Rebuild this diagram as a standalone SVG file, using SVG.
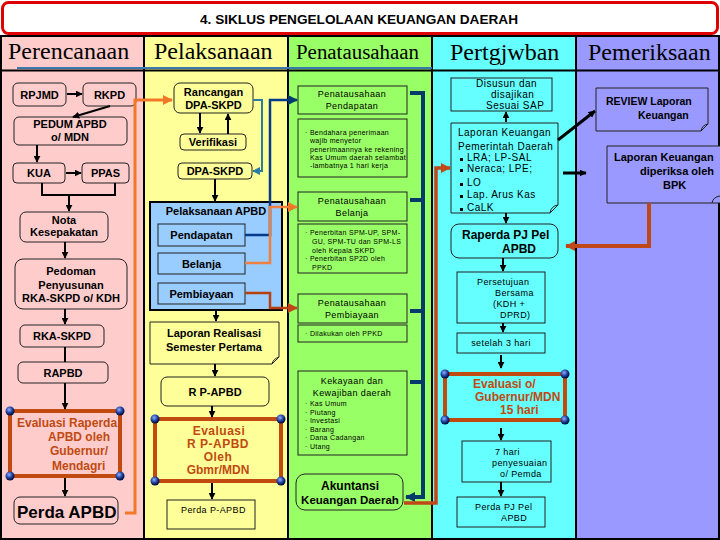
<svg xmlns="http://www.w3.org/2000/svg" width="720" height="540" viewBox="0 0 720 540">
<defs>
<style>
.t{font-family:"Liberation Sans",Arial,sans-serif;fill:#000}
.b{font-weight:bold}
.c{text-anchor:middle}
.hd{font-family:"Liberation Serif","Times New Roman",serif;font-size:24px;fill:#000}
.bx{stroke:#222;stroke-width:1}
.pk{fill:#ffcccc}.yl{fill:#ffff99}.gr{fill:#99ff66}.cy{fill:#66ffff}.lv{fill:#9999ff}.lb{fill:#99ccff}
.ev{fill:none;stroke:#c04a10;stroke-width:4}
.evt{font-family:"Liberation Sans",Arial,sans-serif;font-weight:bold;font-size:12px;fill:#c04a10}
.s9{font-size:9px;letter-spacing:0.4px}
.s7{font-size:7px;letter-spacing:0.3px}
.s10{font-size:10px;letter-spacing:0.5px}
.ar{fill:none;stroke:#000;stroke-width:2;marker-end:url(#ak)}
.ln{fill:none;stroke:#000;stroke-width:2}
</style>
<marker id="ak" viewBox="0 0 10 10" refX="9" refY="5" markerWidth="7" markerHeight="7" markerUnits="userSpaceOnUse" orient="auto"><path d="M0,0 L10,5 L0,10 z" fill="#000"/></marker>
<marker id="ao" viewBox="0 0 10 10" refX="9" refY="5" markerWidth="10" markerHeight="10" markerUnits="userSpaceOnUse" orient="auto"><path d="M0,0 L10,5 L0,10 z" fill="#f07828"/></marker>
<marker id="an" viewBox="0 0 10 10" refX="9" refY="5" markerWidth="10" markerHeight="10" markerUnits="userSpaceOnUse" orient="auto"><path d="M0,0 L10,5 L0,10 z" fill="#063a6a"/></marker>
<marker id="abr" viewBox="0 0 10 10" refX="9" refY="5" markerWidth="10" markerHeight="10" markerUnits="userSpaceOnUse" orient="auto"><path d="M0,0 L10,5 L0,10 z" fill="#c04818"/></marker>
<marker id="at" viewBox="0 0 10 10" refX="9" refY="5" markerWidth="8" markerHeight="8" markerUnits="userSpaceOnUse" orient="auto"><path d="M0,0 L10,5 L0,10 z" fill="#2a7ca0"/></marker>
<radialGradient id="gl" cx="0.4" cy="0.35" r="0.6"><stop offset="0" stop-color="#8fb0ff"/><stop offset="0.6" stop-color="#2040a0"/><stop offset="1" stop-color="#001040"/></radialGradient>
</defs>

<!-- background columns -->
<g id="columns">
<rect x="0" y="36" width="144" height="504" class="pk"/>
<rect x="144" y="36" width="144" height="504" class="yl"/>
<rect x="288" y="36" width="144" height="504" class="gr"/>
<rect x="432" y="36" width="144" height="504" class="cy"/>
<rect x="576" y="36" width="144" height="504" class="lv"/>
<path d="M144,36 V540 M288,36 V540 M432,36 V540 M576,36 V540" stroke="#000" stroke-width="2"/>
<rect x="1" y="36" width="718" height="503" fill="none" stroke="#000" stroke-width="2"/>
<line x1="0" y1="70.5" x2="720" y2="70.5" stroke="#000" stroke-width="2"/>
<line x1="17" y1="68" x2="432" y2="68" stroke="#3a78b0" stroke-width="2"/>
<text class="hd" x="8" y="59">Perencanaan</text>
<text class="hd" x="154" y="59">Pelaksanaan</text>
<text class="hd" x="296" y="59" style="font-size:20px" textLength="123" lengthAdjust="spacingAndGlyphs">Penatausahaan</text>
<text class="hd" x="450" y="60">Pertgjwban</text>
<text class="hd" x="588" y="60">Pemeriksaan</text>
</g>

<g id="title">
<rect x="2.5" y="2.5" width="715" height="31" rx="6" fill="#fff" stroke="#e00000" stroke-width="3"/>
<text class="t b" x="200" y="24" style="font-size:13px" textLength="318" lengthAdjust="spacingAndGlyphs">4. SIKLUS PENGELOLAAN KEUANGAN DAERAH</text>
</g>

<!-- Perencanaan -->
<g id="rpjmd"><rect x="13" y="83" width="53" height="23" rx="5" class="bx pk"/><text class="t b c" x="39.5" y="98.5" font-size="11">RPJMD</text></g>
<g id="rkpd"><rect x="83" y="83" width="53" height="23" rx="5" class="bx pk"/><text class="t b c" x="109.5" y="98.5" font-size="11">RKPD</text></g>
<g id="pedum"><rect x="14" y="117" width="113" height="28" rx="5" class="bx pk"/><text class="t b c" x="70" y="128" font-size="11">PEDUM APBD</text><text class="t b c" x="70" y="141" font-size="11">o/ MDN</text></g>
<g id="kua"><rect x="13" y="163" width="52" height="20" rx="4" class="bx pk"/><text class="t b c" x="39" y="177" font-size="11">KUA</text></g>
<g id="ppas"><rect x="82" y="163" width="47" height="20" rx="4" class="bx pk"/><text class="t b c" x="105.5" y="177" font-size="11">PPAS</text></g>
<g id="nota"><rect x="20" y="212" width="88" height="30" rx="6" class="bx pk"/><text class="t b c" x="64" y="224" font-size="11">Nota</text><text class="t b c" x="64" y="236" font-size="11">Kesepakatan</text></g>
<g id="pedoman"><rect x="15" y="259" width="112" height="50" rx="8" class="bx pk"/><text class="t b c" x="71" y="275" font-size="11">Pedoman</text><text class="t b c" x="71" y="288.5" font-size="11">Penyusunan</text><text class="t b c" x="71" y="302" font-size="11">RKA-SKPD o/ KDH</text></g>
<g id="rkaskpd"><rect x="20" y="325" width="84" height="22" rx="5" class="bx pk"/><text class="t b c" x="62" y="340" font-size="11">RKA-SKPD</text></g>
<g id="rapbd"><rect x="18" y="362" width="90" height="21" rx="5" class="bx pk"/><text class="t b c" x="63" y="377" font-size="11">RAPBD</text></g>
<g id="evaluasi-raperda"><rect x="10" y="411" width="110" height="65" class="ev" style="fill:#ffcccc"/>
<text class="evt" x="17" y="427">Evaluasi Raperda</text><text class="evt" x="48" y="441">APBD oleh</text><text class="evt" x="50" y="455">Gubernur/</text><text class="evt" x="52" y="470">Mendagri</text>
<circle cx="10" cy="411" r="4.5" fill="url(#gl)"/><circle cx="120" cy="411" r="4.5" fill="url(#gl)"/><circle cx="10" cy="476" r="4.5" fill="url(#gl)"/><circle cx="120" cy="476" r="4.5" fill="url(#gl)"/></g>
<g id="perda-apbd"><rect x="14" y="497" width="104" height="27" rx="6" class="bx pk"/><text class="t b" x="17" y="518" font-size="17">Perda APBD</text></g>

<!-- Pelaksanaan -->
<g id="rancangan"><rect x="174" y="83" width="79" height="30" rx="6" class="bx yl"/><text class="t b c" x="213.5" y="96" font-size="11">Rancangan</text><text class="t b c" x="213.5" y="109" font-size="11">DPA-SKPD</text></g>
<g id="verifikasi"><rect x="180" y="134" width="66" height="16" rx="4" class="bx yl"/><text class="t b c" x="213" y="146" font-size="11">Verifikasi</text></g>
<g id="dpaskpd"><rect x="178" y="163" width="74" height="16" rx="4" class="bx yl"/><text class="t b c" x="215" y="175" font-size="11">DPA-SKPD</text></g>
<g id="pelaksanaan-apbd"><rect x="150" y="202" width="132" height="108" class="lb" stroke="#000" stroke-width="2"/><text class="t b c" x="216" y="215" font-size="11">Pelaksanaan APBD</text>
<g id="pendapatan"><rect x="158" y="224" width="87" height="22" class="bx lb"/><text class="t b c" x="201.5" y="239" font-size="11">Pendapatan</text></g>
<g id="belanja"><rect x="158" y="253" width="87" height="21" class="bx lb"/><text class="t b c" x="201.5" y="268" font-size="11">Belanja</text></g>
<g id="pembiayaan"><rect x="158" y="283" width="87" height="21" class="bx lb"/><text class="t b c" x="201.5" y="298" font-size="11">Pembiayaan</text></g></g>
<g id="laporan-realisasi"><path d="M150,322 H279 V357 L272,364 H150 Z" class="bx yl"/><path d="M272,364 Q273,359 279,357" fill="none" stroke="#222"/><text class="t b c" x="214" y="337" font-size="11">Laporan Realisasi</text><text class="t b c" x="214" y="351" font-size="11">Semester Pertama</text></g>
<g id="rp-apbd"><rect x="161" y="377" width="108" height="29" rx="6" class="bx yl"/><text class="t b c" x="215" y="396" font-size="11">R P-APBD</text></g>
<g id="evaluasi-rp"><rect x="155" y="419" width="126" height="62" class="ev" style="fill:#ffff99"/>
<text class="evt" x="219" y="435" text-anchor="middle" letter-spacing="0.5">Evaluasi</text><text class="evt" x="218" y="448" text-anchor="middle" letter-spacing="0.5">R P-APBD</text><text class="evt" x="218" y="461" text-anchor="middle" letter-spacing="0.5">Oleh</text><text class="evt" x="218" y="474" text-anchor="middle">Gbmr/MDN</text>
<circle cx="155" cy="419" r="4.5" fill="url(#gl)"/><circle cx="281" cy="419" r="4.5" fill="url(#gl)"/><circle cx="155" cy="481" r="4.5" fill="url(#gl)"/><circle cx="281" cy="481" r="4.5" fill="url(#gl)"/></g>
<g id="perda-papbd"><rect x="167" y="500" width="88" height="29" class="bx yl"/><text class="t s9" x="181" y="513">Perda P-APBD</text></g>

<!-- Penatausahaan -->
<g id="pt-pendapatan"><rect x="298" y="86" width="109" height="28" class="bx gr"/><text class="t s9 c" x="352" y="97">Penatausahaan</text><text class="t s9 c" x="352" y="109">Pendapatan</text></g>
<g id="pt-pendapatan-note"><rect x="298" y="119" width="109" height="58" class="bx gr"/>
<text class="t s7" x="305" y="135">·  Bendahara penerimaan</text><text class="t s7" x="310" y="143">wajib menyetor</text><text class="t s7" x="310" y="151.5">penerimaannya ke rekening</text><text class="t s7" x="310" y="159.5">Kas Umum daerah selambat</text><text class="t s7" x="310" y="168">-lambatnya 1 hari kerja</text></g>
<g id="pt-belanja"><rect x="298" y="192" width="109" height="29" class="bx gr"/><text class="t s9 c" x="352" y="204">Penatausahaan</text><text class="t s9 c" x="352" y="216">Belanja</text></g>
<g id="pt-belanja-note"><rect x="298" y="224" width="109" height="49" class="bx gr"/>
<text class="t s7" x="305" y="235">·  Penerbitan SPM-UP, SPM-</text><text class="t s7" x="312" y="244">GU, SPM-TU dan SPM-LS</text><text class="t s7" x="312" y="252.5">oleh Kepala SKPD</text><text class="t s7" x="305" y="261">·  Penerbitan SP2D oleh</text><text class="t s7" x="312" y="269.5">PPKD</text></g>
<g id="pt-pembiayaan"><rect x="298" y="294" width="109" height="29" class="bx gr"/><text class="t s9 c" x="352" y="306">Penatausahaan</text><text class="t s9 c" x="352" y="318">Pembiayaan</text></g>
<g id="pt-pembiayaan-note"><rect x="298" y="325" width="109" height="17" class="bx gr"/><text class="t s7" x="305" y="336">·  Dilakukan oleh PPKD</text></g>
<g id="kekayaan"><rect x="298" y="371" width="109" height="84" class="bx gr"/><text class="t s9 c" x="352" y="384">Kekayaan dan</text><text class="t s9 c" x="352" y="396">Kewajiban daerah</text>
<text class="t s7" x="305" y="406">·  Kas Umum</text><text class="t s7" x="305" y="414.5">·  Piutang</text><text class="t s7" x="305" y="423">·  Investasi</text><text class="t s7" x="305" y="431.5">·  Barang</text><text class="t s7" x="305" y="440">·  Dana Cadangan</text><text class="t s7" x="305" y="449">·  Utang</text></g>
<g id="akuntansi"><rect x="296" y="474" width="107" height="36" rx="9" class="bx gr"/><text class="t b c" x="350" y="490" font-size="12">Akuntansi</text><text class="t b c" x="350" y="504" font-size="11.5">Keuangan Daerah</text></g>

<!-- Pertgjwban -->
<g id="disusun"><rect x="451" y="78" width="101" height="33" class="bx cy"/><text class="t s10" x="476" y="87">Disusun dan</text><text class="t s10" x="491" y="98">disajikan</text><text class="t s10" x="486" y="109">Sesuai SAP</text></g>
<g id="lkpd"><path d="M451,123 H558 V205 L550,213 H451 Z" class="bx cy"/><path d="M550,213 Q551,206 558,205" fill="none" stroke="#222"/>
<text class="t s10" x="458" y="136">Laporan Keuangan</text><text class="t s10" x="458" y="150">Pemerintah Daerah</text>
<rect x="460" y="158" width="3" height="3"/><text class="t s10" x="467" y="161">LRA; LP-SAL</text>
<rect x="460" y="169" width="3" height="3"/><text class="t s10" x="467" y="172">Neraca; LPE;</text>
<rect x="460" y="183" width="3" height="3"/><text class="t s10" x="467" y="186">LO</text>
<rect x="460" y="195" width="3" height="3"/><text class="t s10" x="467" y="198">Lap. Arus Kas</text>
<rect x="460" y="208" width="3" height="3"/><text class="t s10" x="467" y="211">CaLK</text></g>
<g id="raperda-pj"><rect x="451" y="224" width="107" height="34" rx="8" class="bx cy"/><text class="t b" x="462" y="239" font-size="12">Raperda PJ Pel</text><text class="t b" x="502" y="253" font-size="12">APBD</text></g>
<g id="persetujuan"><rect x="457" y="272" width="88" height="51" class="bx cy"/><text class="t s9" x="477" y="285">Persetujuan</text><text class="t s9" x="495" y="296">Bersama</text><text class="t s9" x="493" y="307">(KDH +</text><text class="t s9" x="500" y="318">DPRD)</text></g>
<g id="setelah"><rect x="457" y="333" width="88" height="20" class="bx cy"/><text class="t s9 c" x="501" y="346">setelah 3 hari</text></g>
<g id="evaluasi-gub"><rect x="445" y="374" width="120" height="46" class="ev" style="fill:#66ffff"/>
<text class="evt" x="473" y="388">Evaluasi o/</text><text class="evt" x="475" y="401">Gubernur/MDN</text><text class="evt" x="500" y="414">15 hari</text>
<circle cx="445" cy="374" r="4.5" fill="url(#gl)"/><circle cx="565" cy="374" r="4.5" fill="url(#gl)"/><circle cx="445" cy="420" r="4.5" fill="url(#gl)"/><circle cx="565" cy="420" r="4.5" fill="url(#gl)"/></g>
<g id="tujuh-hari"><rect x="462" y="441" width="89" height="41" class="bx cy"/><text class="t s9" x="495" y="455">7 hari</text><text class="t s9" x="492" y="466">penyesuaian</text><text class="t s9" x="500" y="477">o/ Pemda</text></g>
<g id="perda-pj"><rect x="457" y="497" width="88" height="30" class="bx cy"/><text class="t s9" x="475" y="510">Perda PJ Pel</text><text class="t s9" x="501" y="521">APBD</text></g>

<!-- Pemeriksaan -->
<g id="review"><path d="M596,88 H708 V124 L701,131 H596 Z" class="bx lv"/><path d="M701,131 Q702,125 708,124" fill="none" stroke="#222"/><text class="t b" x="606" y="105" font-size="10.5">REVIEW Laporan</text><text class="t b" x="638" y="119" font-size="10.5">Keuangan</text></g>
<g id="diperiksa"><path d="M607,146 H722 V203 H607 Z" class="bx lv"/><path d="M712,203 Q713,197 720,196" fill="none" stroke="#222"/><text class="t b" x="614" y="161" font-size="11">Laporan Keuangan</text><text class="t b" x="640" y="175" font-size="11">diperiksa oleh</text><text class="t b" x="663" y="189" font-size="11">BPK</text></g>

<!-- connectors -->
<g id="connectors">
<path class="ar" d="M67,94 H82"/>
<path class="ar" d="M110,106 L73,117"/>
<path class="ar" d="M37,145 V162"/>
<path class="ar" d="M66,173 H81"/>
<path class="ln" d="M42,183 V195 H115 V183"/>
<path class="ar" d="M69,195 V211"/>
<path class="ar" d="M65,242 V258"/>
<path class="ar" d="M65,309 V324"/>
<path class="ln" d="M65,347 V362"/>
<path class="ar" d="M65,383 V409"/>
<path class="ar" d="M65,478 V496"/>
<path d="M125,513 H135 V100 H172" fill="none" stroke="#f07828" stroke-width="3" marker-end="url(#ao)"/>

<path class="ar" d="M200,113 V133"/>
<path class="ar" d="M228,134 V114"/>
<path d="M253,100 H262 V171 H253" fill="none" stroke="#2a7ca0" stroke-width="2" marker-end="url(#at)"/>
<path class="ar" d="M215,179 V201"/>
<path class="ar" d="M216,310 V321"/>
<path class="ar" d="M215,364 V376"/>
<path class="ar" d="M212,406 V417"/>
<path class="ar" d="M212,483 V499"/>

<path d="M245,235 H270 V100 H297" fill="none" stroke="#063a8a" stroke-width="2.5" marker-end="url(#an)"/>
<path d="M245,263 H270 V207 H297" fill="none" stroke="#f08040" stroke-width="2.5" marker-end="url(#ao)"/>
<path d="M245,293 H270 V308 H297" fill="none" stroke="#b84010" stroke-width="2.5" marker-end="url(#abr)"/>

<path d="M410,93 H423 V497 H406" fill="none" stroke="#063a6a" stroke-width="4" marker-end="url(#an)"/>
<path d="M410,200 H423 M410,311 H423 M410,382 H423" fill="none" stroke="#063a6a" stroke-width="4"/>
<path d="M404,503 H436 V168 H450" fill="none" stroke="#c04818" stroke-width="3.5" marker-end="url(#abr)"/>

<path class="ar" d="M506,122 V112"/>
<path d="M558,140 L595,111" fill="none" stroke="#000" stroke-width="3" marker-end="url(#ak)"/>
<path class="ar" d="M563,173 H586" style="stroke-width:3"/>
<path class="ar" d="M506,213 V223"/>
<path class="ar" d="M503,258 V271"/>
<path class="ar" d="M503,323 V332"/>
<path class="ar" d="M501,355 V368"/>
<path class="ar" d="M501,428 V440"/>
<path class="ar" d="M501,482 V496"/>
<path d="M649,203 V246 H566" fill="none" stroke="#c04818" stroke-width="4" marker-end="url(#abr)"/>
</g>
</svg>
